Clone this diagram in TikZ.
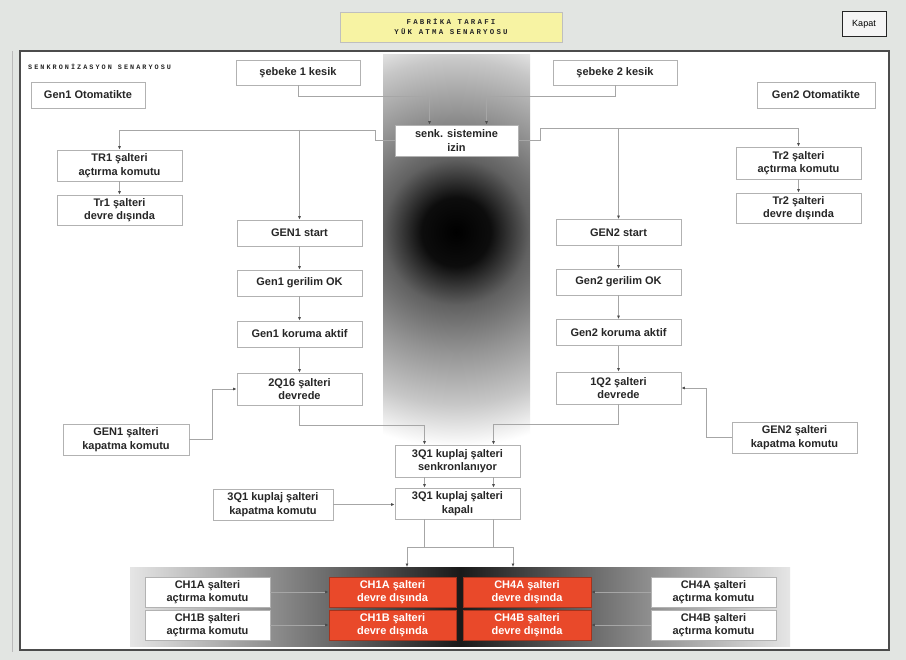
\documentclass[tikz,border=0pt]{standalone}
\usepackage{fontspec}
\setmainfont{Liberation Sans}
\newfontfamily\pixfont[LetterSpace=30]{Liberation Mono}
\usetikzlibrary{arrows.meta,shadows}
\definecolor{bgray}{HTML}{E2E5E2}
\definecolor{titley}{HTML}{F7F3A3}
\definecolor{chred}{HTML}{E9492A}
\definecolor{lnc}{HTML}{A6A6A6}
\pgfdeclareradialshading{glow}{\pgfpoint{0bp}{0bp}}{color(0bp)=(black); color(4bp)=(black!95); color(8.5bp)=(black!62); color(14bp)=(black!42); color(20bp)=(black!22); color(25bp)=(white); color(50bp)=(white)}
\tikzset{
  box/.style={draw=gray!60, fill=white, line width=0.7pt, text=black!85,
    font=\fontsize{11}{13.5}\selectfont\bfseries, align=center, inner sep=0pt,
    drop shadow={shadow xshift=1pt, shadow yshift=-1pt, opacity=0.22, fill=black}},
  redbox/.style={box, fill=chred, draw=chred!70!black, text=white},
  sz/.style 2 args={minimum width=#1pt, minimum height=#2pt},
  conn/.style={draw=lnc, line width=0.7pt},
  arr/.style={conn, -{Latex[length=3.5pt,width=3pt,color=black!70]}},
}
\begin{document}
\begin{tikzpicture}[x=1pt,y=-1pt]
\useasboundingbox (0,0) rectangle (906,660);
% background
\fill[bgray] (0,0) rectangle (906,660);
\draw[gray!55, line width=0.6pt] (12,51) -- (12,652);
\draw[line width=1.6pt, draw=gray!60!black, fill=white] (20,51) rectangle (889,650);
% central glow
\begin{scope}
  \clip (383,55) rectangle (530,445);
  \shade[shading=glow] (241,17) rectangle (671,447);
\end{scope}
% bottom band
\shade[left color=gray!20, right color=gray!20, middle color=black!90] (130,567) rectangle (790,646);
% title & header
\node[draw=gray!50, fill=titley, sz={222}{30}, align=center, text=black!85,
  font=\pixfont\bfseries\fontsize{7.4}{10}\selectfont] (title) at (451,27) {FABRİKA TARAFI\\YÜK ATMA SENARYOSU};
\node[draw=black!85, line width=1pt, fill=gray!8, sz={44}{25}, font=\fontsize{9}{10}\selectfont] (kapat) at (864,24.5) {Kapat};
\node[anchor=west, inner sep=0pt, text=black!85, font=\pixfont\bfseries\fontsize{6.8}{8}\selectfont] (senaryo) at (28,67) {SENKRONİZASYON SENARYOSU};
% boxes
\node[box, sz={124}{25}] (seb1) at (298,72.5) {şebeke 1 kesik};
\node[box, sz={124}{25}] (seb2) at (615,72.5) {şebeke 2 kesik};
\node[box, sz={114}{26}] (gen1oto) at (88,95) {Gen1 Otomatikte};
\node[box, sz={118}{26}] (gen2oto) at (816,95) {Gen2 Otomatikte};
\node[box, sz={123}{31}] (senk) at (456.5,140.5) {senk. sistemine\\izin};
\node[box, sz={125}{31}] (tr1a) at (119.5,165.5) {TR1 şalteri\\açtırma komutu};
\node[box, sz={125}{30}] (tr1b) at (119.5,210) {Tr1 şalteri\\devre dışında};
\node[box, sz={125}{32}] (tr2a) at (798.5,163) {Tr2 şalteri\\açtırma komutu};
\node[box, sz={125}{30}] (tr2b) at (798.5,208) {Tr2 şalteri\\devre dışında};
\node[box, sz={125}{26}] (g1start) at (299.5,233) {GEN1 start};
\node[box, sz={125}{26}] (g1ok) at (299.5,283) {Gen1 gerilim OK};
\node[box, sz={125}{26}] (g1kor) at (299.5,334) {Gen1 koruma aktif};
\node[box, sz={125}{32}] (q216) at (299.5,389) {2Q16 şalteri\\devrede};
\node[box, sz={126}{31}] (g1kap) at (126,439.5) {GEN1 şalteri\\kapatma komutu};
\node[box, sz={125}{26}] (g2start) at (618.5,232.5) {GEN2 start};
\node[box, sz={125}{26}] (g2ok) at (618.5,282) {Gen2 gerilim OK};
\node[box, sz={125}{26}] (g2kor) at (618.5,332.5) {Gen2 koruma aktif};
\node[box, sz={125}{32}] (q12) at (618.5,388) {1Q2 şalteri\\devrede};
\node[box, sz={125}{31}] (g2kap) at (794.5,437.5) {GEN2 şalteri\\kapatma komutu};
\node[box, sz={125}{32}] (sync) at (457.5,461) {3Q1 kuplaj şalteri\\senkronlanıyor};
\node[box, sz={125}{31}] (kapali) at (457.5,503.5) {3Q1 kuplaj şalteri\\kapalı};
\node[box, sz={120}{31}] (kupkap) at (273,504.5) {3Q1 kuplaj şalteri\\kapatma komutu};
\node[box, sz={125}{30}] (ch1acmd) at (207.5,592) {CH1A şalteri\\açtırma komutu};
\node[box, sz={125}{30}] (ch1bcmd) at (207.5,625) {CH1B şalteri\\açtırma komutu};
\node[redbox, sz={127}{30}] (ch1a) at (392.5,592) {CH1A şalteri\\devre dışında};
\node[redbox, sz={127}{30}] (ch1b) at (392.5,625) {CH1B şalteri\\devre dışında};
\node[redbox, sz={128}{30}] (ch4a) at (527,592) {CH4A şalteri\\devre dışında};
\node[redbox, sz={128}{30}] (ch4b) at (527,625) {CH4B şalteri\\devre dışında};
\node[box, sz={125}{30}] (ch4acmd) at (713.5,592) {CH4A şalteri\\açtırma komutu};
\node[box, sz={125}{30}] (ch4bcmd) at (713.5,625) {CH4B şalteri\\açtırma komutu};
% junction coordinates
\coordinate (jl) at (375,130);
\coordinate (jr) at (540,128);
\coordinate (bl) at (407,547);
\coordinate (br) at (513,547);
\coordinate (bla) at (407,567);
\coordinate (bra) at (513,567);
% connectors
\draw[arr] (seb1.south) -- (seb1.south |- 0,96) -| ([xshift=-27pt]senk.north);
\draw[arr] (seb2.south) -- (seb2.south |- 0,96) -| ([xshift=30pt]senk.north);
\draw[arr] (senk.west) -| (jl) -- (jl -| tr1a.north) -- (tr1a.north);
\draw[arr] (jl -| g1start.north) -- (g1start.north);
\draw[arr] (senk.east) -| (jr) -- (jr -| tr2a.north) -- (tr2a.north);
\draw[arr] (jr -| g2start.north) -- (g2start.north);
\draw[arr] (tr1a) -- (tr1b);
\draw[arr] (tr2a) -- (tr2b);
\draw[arr] (g1start) -- (g1ok);
\draw[arr] (g1ok) -- (g1kor);
\draw[arr] (g1kor) -- (q216);
\draw[arr] (g2start) -- (g2ok);
\draw[arr] (g2ok) -- (g2kor);
\draw[arr] (g2kor) -- (q12);
\draw[arr] (g1kap.east) -- ++(23,0) |- (q216.west);
\draw[arr] (g2kap.west) -- ++(-25,0) |- (q12.east);
\draw[arr] (q216.south) -- (q216.south |- 0,425) -| ([xshift=-33pt]sync.north);
\draw[arr] (q12.south) -- (q12.south |- 0,424) -| ([xshift=36pt]sync.north);
\draw[arr] ([xshift=-33pt]sync.south) -- ([xshift=-33pt]kapali.north);
\draw[arr] ([xshift=36pt]sync.south) -- ([xshift=36pt]kapali.north);
\draw[arr] (kupkap.east) -- (kupkap.east -| kapali.west);
\draw[conn] ([xshift=-33pt]kapali.south) -- ([xshift=-33pt]kapali.south |- bl);
\draw[conn] ([xshift=36pt]kapali.south) -- ([xshift=36pt]kapali.south |- bl);
\draw[conn] (bl) -- (br);
\draw[arr] (bl) -- (bla);
\draw[arr] (br) -- (bra);
\draw[arr] (ch1acmd) -- (ch1a);
\draw[arr] (ch1bcmd) -- (ch1b);
\draw[arr] (ch4acmd) -- (ch4a);
\draw[arr] (ch4bcmd) -- (ch4b);
\end{tikzpicture}
\end{document}
